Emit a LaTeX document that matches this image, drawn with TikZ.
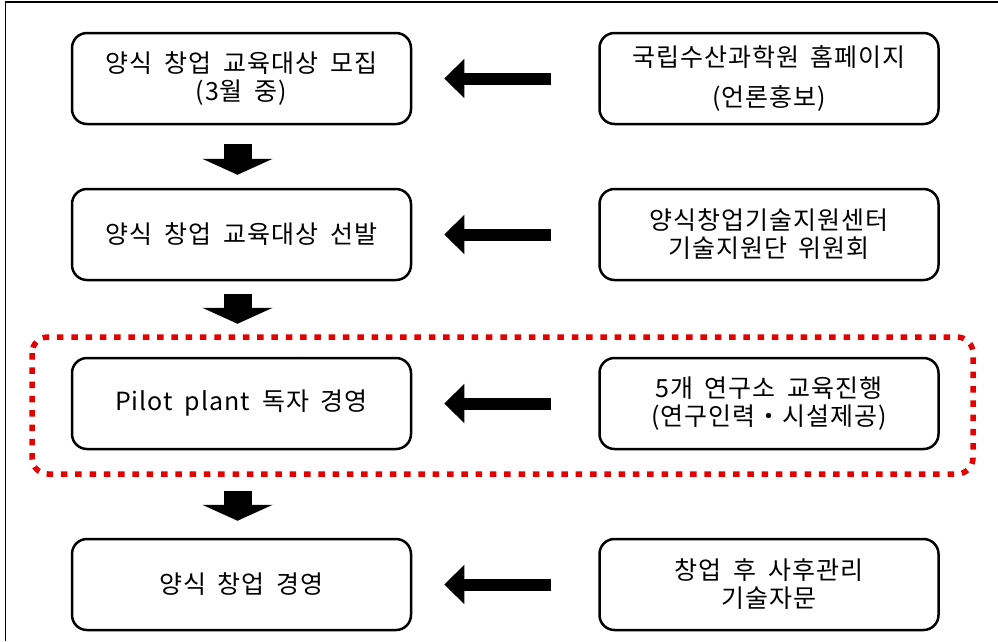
\documentclass[tikz,border=0pt]{standalone}
\usepackage{fontspec}
\setmainfont{Noto Sans CJK KR}[LetterSpace=4,WordSpace=1.8]
\usetikzlibrary{arrows.meta}

\tikzset{
  stepbox/.style={draw, line width=2.5pt, rounded corners=15pt,
    minimum width=339pt, minimum height=91pt, inner sep=0pt,
    align=center, font=\fontsize{25}{28}\selectfont},
  sidearrow/.style={line width=12pt, -{Triangle[length=20pt,width=38pt]},
    shorten <=47pt, shorten >=32pt},
  downarrow/.style={line width=28pt, -{Triangle[length=16pt,width=70pt]}},
  redframe/.style={red!90!black, line width=5.5pt,
    dash pattern=on 6.5pt off 7.8pt, rounded corners=16pt},
}

\newcommand{\steprow}[4]{%
  \node[stepbox] (l#1) at (\leftx,#2) {#3};%
  \node[stepbox] (r#1) at (\rightx,#2) {#4};%
  \draw[sidearrow] (r#1) -- (l#1);%
}

\begin{document}
\begin{tikzpicture}[x=1pt,y=-1pt]
  \useasboundingbox (0,0) rectangle (998,641);
  \pgfmathsetmacro{\leftx}{241.5}
  \pgfmathsetmacro{\rightx}{769}
  %
  \draw[line width=1.8pt] (5.5,641) -- (5.5,2) -- (998,2);
  \steprow{1}{78.5}{양식 창업 교육대상 모집\\(3월 중)}{국립수산과학원 홈페이지\\[12pt](언론홍보)}   % recruiting
  \steprow{2}{234.5}{양식 창업 교육대상 선발}{양식창업기술지원센터\\기술지원단 위원회}          % selection
  \steprow{3}{403.5}{Pilot plant 독자 경영}{5개 연구소 교육진행\\(연구인력・시설제공)}       % pilot plant
  \steprow{4}{584.5}{양식 창업 경영}{창업 후 사후관리\\기술자문}                           % own farm
  %
  \draw[downarrow, shorten <=19pt, shorten >=13pt] ([xshift=-4pt]l1.south) -- ([xshift=-4pt]l2.north);
  \draw[downarrow, shorten <=13pt, shorten >=33pt] ([xshift=-4pt]l2.south) -- ([xshift=-4pt]l3.north);
  \draw[downarrow, shorten <=41pt, shorten >=17pt] ([xshift=-4pt]l3.south) -- ([xshift=-4pt]l4.north);
  \draw[redframe] (32,337) rectangle (973,474);
\end{tikzpicture}
\end{document}
